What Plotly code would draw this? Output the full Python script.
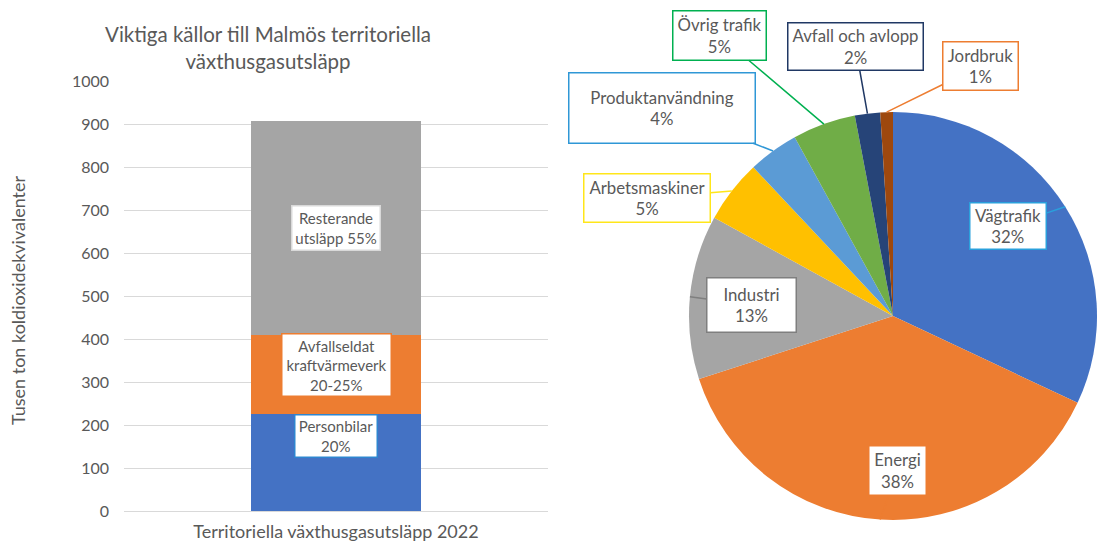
import numpy as np
import plotly.graph_objects as go

W, H = 1097, 545
FONT = "Lato"
TXT = "#595959"

# ---------------- data ----------------
bar_category = ["Territoriella växthusgasutsläpp 2022"]
bar_series = ["Personbilar", "Avfallseldat kraftvärmeverk", "Resterande utsläpp"]
bar_values = [225, 185, 498]
bar_label_texts = ["Personbilar<br>20%", "Avfallseldat<br>kraftvärmeverk<br>20-25%", "Resterande<br>utsläpp 55%"]
y_tick_values = [0, 100, 200, 300, 400, 500, 600, 700, 800, 900, 1000]

pie_labels = ["Vägtrafik", "Energi", "Industri", "Arbetsmaskiner",
              "Produktanvändning", "Övrig trafik", "Avfall och avlopp", "Jordbruk"]
pie_values = [32, 38, 13, 5, 4, 5, 2, 1]

# ---------------- styles / layout ----------------
bar_colors = ["#4472C4", "#ED7D31", "#A5A5A5"]
bar_label_borders = ["#2E86D0", "#ED7D31", "#D9D9D9"]
bar_label_y = [175, 340, 659]          # label box centres (data units)
bar_label_size = [(84, 44), (111, 64), (90, 46)]

pie_colors = ["#4472C4", "#ED7D31", "#A5A5A5", "#FFC000",
              "#5B9BD5", "#70AD47", "#264478", "#9E480E"]
callout_borders = ["#2AA0DC", "#ED7D31", "#7F7F7F", "#FFE61A",
                   "#2F97D6", "#00B050", "#203864", "#ED7D31"]
# box centre x, centre y, width, height (pixels)
callout_boxes = [(1008, 226, 78, 48), (897.5, 470.5, 59, 51), (751.5, 305, 91, 56),
                 (647, 198, 128, 50), (662, 108, 188, 72), (719.5, 35.5, 95, 51),
                 (855.5, 46.5, 137, 49), (980.5, 66, 77, 50)]

plot_left, plot_right, plot_top, plot_bottom = 124, 548, 81.7, 511
pie_left, pie_top, pie_size = 689, 112, 408

fig = go.Figure()

for name, val, col in zip(bar_series, bar_values, bar_colors):
    fig.add_trace(go.Bar(x=bar_category, y=[val], name=name, marker=dict(color=col, line=dict(width=0)),
                         width=0.4, hoverinfo="skip", showlegend=False))

fig.add_trace(go.Pie(labels=pie_labels, values=pie_values, sort=False, direction="clockwise",
                     rotation=0, marker=dict(colors=pie_colors, line=dict(width=0)),
                     textinfo="none", hoverinfo="skip", showlegend=False, automargin=False,
                     domain=dict(x=[pie_left / W, (pie_left + pie_size) / W],
                                 y=[1 - (pie_top + pie_size) / H, 1 - pie_top / H])))

annotations = []
annotations.append(dict(text="Viktiga källor till Malmös territoriella<br>växthusgasutsläpp",
                        x=268 / W, y=1 - 47 / H, xref="paper", yref="paper", showarrow=False,
                        font=dict(family=FONT, size=20.5, color=TXT), xanchor="center", yanchor="middle"))
annotations.append(dict(text="Tusen ton koldioxidekvivalenter", textangle=-90,
                        x=18 / W, y=1 - 300 / H, xref="paper", yref="paper", showarrow=False,
                        font=dict(family=FONT, size=18, color=TXT), xanchor="center", yanchor="middle"))

for txt, yv, bc, (bw, bh) in zip(bar_label_texts, bar_label_y, bar_label_borders, bar_label_size):
    annotations.append(dict(text=txt, x=bar_category[0], y=yv, xref="x", yref="y", showarrow=False,
                            font=dict(family=FONT, size=15, color=TXT), bgcolor="white",
                            bordercolor=bc, borderwidth=1.5, borderpad=0,
                            width=bw - 3, height=bh - 3, align="center"))

cx = pie_left + pie_size / 2
cy = pie_top + pie_size / 2
r = pie_size / 2
vals = np.array(pie_values, dtype=float)
cum = np.concatenate([[0], np.cumsum(vals)[:-1]])
mid = (cum + vals / 2) / vals.sum() * 2 * np.pi
tip_x = cx + r * np.sin(mid)
tip_y = cy - r * np.cos(mid)
for lab, v, bc, (bx, by, bw, bh), tx, ty in zip(pie_labels, pie_values, callout_borders,
                                                 callout_boxes, tip_x, tip_y):
    annotations.append(dict(text=f"{lab}<br>{v}%", x=tx / W, y=1 - ty / H, xref="paper", yref="paper",
                            showarrow=True, arrowhead=0, arrowwidth=1.5, arrowcolor=bc, standoff=0,
                            ax=bx - tx, ay=by - ty, axref="pixel", ayref="pixel",
                            font=dict(family=FONT, size=16.8, color=TXT), bgcolor="white",
                            bordercolor=bc, borderwidth=1.5, borderpad=0,
                            width=bw - 3, height=bh - 3, align="center"))

fig.update_layout(
    template="none",
    width=W, height=H, autosize=False, margin=dict(l=0, r=0, t=0, b=0, pad=0, autoexpand=False),
    paper_bgcolor="white", plot_bgcolor="white", barmode="stack", bargap=0.6,
    font=dict(family=FONT, color=TXT),
    xaxis=dict(domain=[plot_left / W, plot_right / W], showgrid=False, showline=False, ticks="",
               automargin=False, zeroline=False,
               tickfont=dict(family=FONT, size=18, color=TXT), ticklabelstandoff=8, fixedrange=True),
    yaxis=dict(domain=[1 - plot_bottom / H, 1 - plot_top / H], range=[0, 1000], tickvals=y_tick_values,
               showgrid=True, gridcolor="#D9D9D9", gridwidth=1, zeroline=True, zerolinecolor="#D9D9D9",
               zerolinewidth=1, showline=False, ticks="", ticklabelstandoff=14, automargin=False,
               tickfont=dict(family=FONT, size=16, color=TXT), fixedrange=True),
    annotations=annotations,
)

fig.write_html("out.html", config={"responsive": False, "displayModeBar": False},
               post_script="document.body.style.margin='0';document.body.style.overflow='hidden';")
